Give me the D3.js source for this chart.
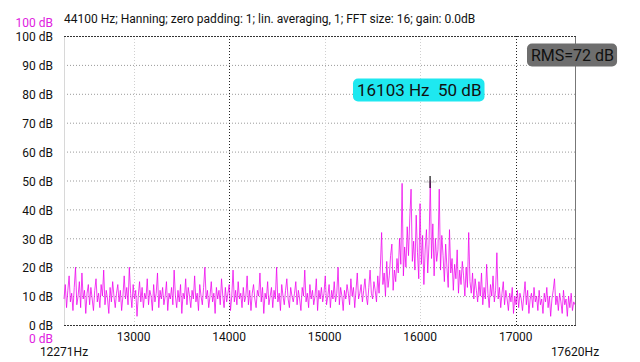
<!DOCTYPE html>
<html>
<head>
<meta charset="utf-8">
<script src="https://cdn.jsdelivr.net/npm/d3@7"></script>
<style>
  body { margin: 0; background: #fff; }
  svg { display: block; font-family: Roboto, "Noto Sans", sans-serif; }
</style>
</head>
<body>
<div id="chart"></div>
<script>
// header / annotation texts
const title = "44100 Hz; Hanning; zero padding: 1; lin. averaging, 1; FFT size: 16; gain: 0.0dB";
const peakHz = 16103;
const peakDb = 50;
const rmsDb = 72;

// frequency range shown and tick values
const startHz = 12271;
const endHz = 17620;
const xTicks = [13000, 14000, 15000, 16000, 17000];
const darkXGrid = [14000, 17000];
const yTicks = [0, 10, 20, 30, 40, 50, 60, 70, 80, 90, 100];

// spectrum magnitude (dB), equally spaced bins from startHz to endHz
const spectrumDb = [
  // noise floor 12271 .. ~15560 Hz
  9, 14, 6, 12, 17, 8, 11, 5, 13, 20, 7, 10, 15, 6, 18, 9, 12, 4, 11, 14,
  7, 13, 9, 5, 12, 16, 8, 11, 6, 14, 10, 19, 7, 12, 9, 4, 13, 8, 15, 10,
  6, 11, 14, 8, 12, 5, 10, 17, 9, 13, 7, 20, 11, 6, 14, 9, 12, 3, 10, 15,
  8, 13, 6, 11, 9, 16, 7, 12, 10, 5, 14, 8, 11, 18, 6, 12, 9, 13, 7, 10,
  15, 5, 11, 9, 13, 7, 19, 10, 6, 12, 8, 14, 4, 11, 9, 16, 7, 13, 10, 6,
  12, 9, 17, 8, 11, 5, 14, 10, 7, 13, 20, 9, 12, 6, 10, 15, 8, 11, 4, 13,
  9, 12, 7, 16, 10, 6, 13, 8, 11, 14, 5, 10, 19, 8, 12, 7, 15, 9, 11, 6,
  13, 8, 10, 17, 7, 12, 5, 11, 14, 9, 6, 12, 10, 18, 8, 13, 4, 11, 9, 15,
  7, 10, 13, 6, 12, 9, 20, 8, 11, 5, 14, 10, 7, 12, 16, 9, 6, 13, 10, 8,
  11, 15, 7, 12, 9, 5, 13, 10, 19, 8, 11, 6, 14, 9, 12, 7, 10, 16, 5, 12,
  9, 13, 8, 11, 17, 7, 10, 14, 6, 12, 9, 15, 8, 11, 20, 7, 13, 10, 5, 12,
  9, 14, 11, 7, 16, 10, 13, 6, 12, 18, 9, 11, 14, 8, 12, 16, 10, 7, 13, 19,
  11, 9, 15, 12, 8, 17,
  // hump around the peak
  11, 20, 32, 14, 18, 10, 22, 13, 17, 24,
  28, 12, 19, 15, 23, 18, 30, 21, 49, 17,
  27, 20, 34, 24, 37, 47, 22, 29, 19, 38,
  25, 16, 42, 21, 31, 14, 26, 33, 18, 28,
  50, 23, 35, 17, 30, 22, 26, 47, 19, 31,
  24, 15, 28, 20, 13, 33, 18, 23, 12, 21,
  16, 26, 11, 19, 14, 22, 17, 10, 20, 13,
  32, 15, 11, 18, 9, 16,
  // tail
  12, 8, 15, 10, 18, 7, 13, 9, 21, 11,
  6, 14, 10, 17, 8, 12, 25, 9, 13, 6,
  11, 15, 7, 12, 9, 5, 11, 8, 13, 4,
  10, 7, 12, 6, 11, 9, 5, 10, 15, 7,
  12, 4, 9, 11, 6, 13, 8, 10, 5, 12,
  7, 9, 4, 11, 8, 13, 6, 10, 3, 9,
  12, 16, 7, 10, 5, 11, 8, 4, 12, 7,
  9, 3, 10, 6, 11, 5, 8, 7
];

const width = 640, height = 362;
const margin = {top: 36, right: 65, bottom: 37, left: 64};
const innerW = width - margin.left - margin.right;
const innerH = height - margin.top - margin.bottom;

const binStep = (endHz - startHz) / (spectrumDb.length - 1);
const data = spectrumDb.map((v, i) => ({hz: startHz + i * binStep, db: v}));

const x = d3.scaleLinear().domain([startHz, endHz]).range([0, innerW]);
const y = d3.scaleLinear().domain([0, 100]).range([innerH, 0]);

const svg = d3.select("#chart").append("svg")
  .attr("width", width)
  .attr("height", height);

// title line
svg.append("text")
  .attr("x", margin.left)
  .attr("y", 23)
  .style("font-size", "12px")
  .attr("fill", "#111")
  .text(title);

const g = svg.append("g")
  .attr("transform", "translate(" + margin.left + "," + margin.top + ")");

// horizontal grid
g.selectAll(".hgrid")
  .data(yTicks.filter(d => d > 0 && d < 100))
  .enter().append("line")
  .attr("x1", 0).attr("x2", innerW)
  .attr("y1", d => y(d) + 0.5).attr("y2", d => y(d) + 0.5)
  .attr("stroke", "#9a9a9a")
  .attr("stroke-dasharray", "1,2");

// vertical grid
g.selectAll(".vgrid")
  .data(xTicks)
  .enter().append("line")
  .attr("x1", d => Math.round(x(d)) + 0.5).attr("x2", d => Math.round(x(d)) + 0.5)
  .attr("y1", 0).attr("y2", innerH)
  .attr("stroke", d => darkXGrid.includes(d) ? "#222" : "#d0d0d0")
  .attr("stroke-dasharray", "1,2");

// frame: light left edge, gray right edge, dashed top/bottom
g.append("line")
  .attr("x1", 0.5).attr("x2", 0.5).attr("y1", 0).attr("y2", innerH)
  .attr("stroke", "#d8d8d8");
g.append("line")
  .attr("x1", innerW + 0.5).attr("x2", innerW + 0.5).attr("y1", y(100)).attr("y2", innerH)
  .attr("stroke", "#777");
[100, 0].forEach(v => {
  g.append("line")
    .attr("x1", 0).attr("x2", innerW + 1)
    .attr("y1", y(v) + 0.5).attr("y2", y(v) + 0.5)
    .attr("stroke", "#333")
    .attr("stroke-dasharray", "2,1");
});

// spectrum trace
const line = d3.line()
  .x(d => x(d.hz))
  .y(d => y(d.db));

g.append("path")
  .datum(data)
  .attr("fill", "none")
  .attr("stroke", "#ee00ee")
  .attr("stroke-width", 0.9)
  .attr("stroke-opacity", 0.85)
  .attr("d", line);

// peak marker
g.append("line")
  .attr("x1", x(peakHz) - 6).attr("x2", x(peakHz) + 6)
  .attr("y1", y(peakDb) + 1.5).attr("y2", y(peakDb) + 1.5)
  .attr("stroke", "#ccc");
g.append("line")
  .attr("x1", x(peakHz)).attr("x2", x(peakHz))
  .attr("y1", y(peakDb) - 4.5).attr("y2", y(peakDb) + 7.5)
  .attr("stroke", "#111")
  .attr("stroke-width", 1.2);

// y labels
svg.selectAll(".ylab")
  .data(yTicks)
  .enter().append("text")
  .attr("x", 53)
  .attr("y", d => margin.top + y(d) + 1)
  .attr("dy", "0.35em")
  .attr("text-anchor", "end")
  .style("font-size", "12px")
  .attr("fill", "#111")
  .text(d => d + " dB");

// magenta range labels
svg.append("text")
  .attr("x", 53).attr("y", margin.top + y(100) - 13).attr("dy", "0.35em")
  .attr("text-anchor", "end").style("font-size", "12px").attr("fill", "#e020e0")
  .text(yTicks[yTicks.length - 1] + " dB");
svg.append("text")
  .attr("x", 53).attr("y", margin.top + y(0) + 14).attr("dy", "0.35em")
  .attr("text-anchor", "end").style("font-size", "12px").attr("fill", "#e020e0")
  .text(yTicks[0] + " dB");

// x tick labels
svg.selectAll(".xlab")
  .data(xTicks)
  .enter().append("text")
  .attr("x", d => margin.left + x(d))
  .attr("y", margin.top + innerH + 12)
  .attr("dy", "0.35em")
  .attr("text-anchor", "middle")
  .style("font-size", "12px")
  .attr("fill", "#111")
  .text(d => d);

// range ends
svg.append("text")
  .attr("x", margin.left + x(startHz)).attr("y", margin.top + innerH + 27).attr("dy", "0.35em")
  .attr("text-anchor", "middle").style("font-size", "12px").attr("fill", "#111")
  .text(startHz + "Hz");
svg.append("text")
  .attr("x", margin.left + x(endHz)).attr("y", margin.top + innerH + 27).attr("dy", "0.35em")
  .attr("text-anchor", "middle").style("font-size", "12px").attr("fill", "#111")
  .text(endHz + "Hz");

// rounded label helper
function badge(tx, ty, txt, size, bg) {
  const grp = svg.append("g");
  const rect = grp.append("rect").attr("fill", bg).attr("rx", 5).attr("ry", 5);
  const t = grp.append("text")
    .attr("x", tx).attr("y", ty).attr("dy", "0.35em")
    .style("font-size", size + "px")
    .attr("fill", "#111")
    .attr("xml:space", "preserve")
    .style("white-space", "pre")
    .text(txt);
  const w = t.node().getComputedTextLength();
  rect.attr("x", tx - 4).attr("y", ty - 11.5).attr("width", w + 7).attr("height", 23);
}

badge(357, 90, peakHz + " Hz  " + peakDb + " dB", 17, "#1ee8f0");
badge(531, 55, "RMS=" + rmsDb + " dB", 16, "#6e6e6e");
</script>
</body>
</html>
